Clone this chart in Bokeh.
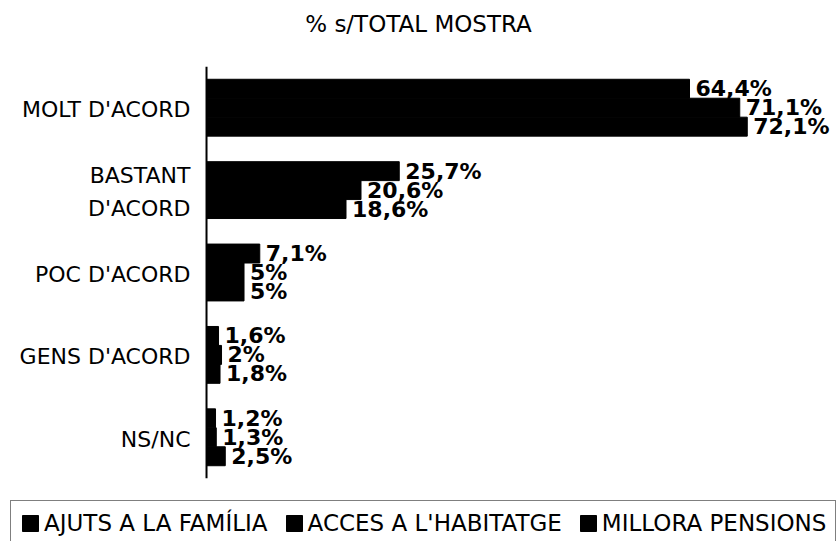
from bokeh.plotting import figure
from bokeh.layouts import column
from bokeh.models import ColumnDataSource, Legend, LegendItem, Span, FactorRange, Title
from bokeh.transform import dodge
from bokeh.core.properties import value
from bokeh.embed import file_html
from bokeh.resources import INLINE

# ---- data ----
categories = ["MOLT D'ACORD", "BASTANT\nD'ACORD", "POC D'ACORD", "GENS D'ACORD", "NS/NC"]
series_names = ["AJUTS A LA FAMÍLIA", "ACCES A L'HABITATGE", "MILLORA PENSIONS"]
ajuts = [64.4, 25.7, 7.1, 1.6, 1.2]
acces = [71.1, 20.6, 5.0, 2.0, 1.3]
millora = [72.1, 18.6, 5.0, 1.8, 2.5]
title_text = "% s/TOTAL MOSTRA"


def fmt(v):
    return f"{v:g}".replace(".", ",") + "%"


series = [ajuts, acces, millora]
cols = ["s0", "s1", "s2"]
data = {"cat": categories}
for c, vals in zip(cols, series):
    data[c] = vals
    data[c + "_lbl"] = [fmt(v) for v in vals]
src = ColumnDataSource(data)

FONT = "DejaVu Sans"
W = 836
p = figure(width=W, height=490,
           y_range=FactorRange(factors=categories[::-1]),
           x_range=(-27.47, 84.0),
           output_backend="svg", toolbar_location=None,
           min_border_left=0, min_border_right=0,
           min_border_top=66, min_border_bottom=12)

p.xaxis.visible = False
p.yaxis.visible = False
p.grid.visible = False
p.outline_line_color = None
p.background_fill_color = "white"
p.border_fill_color = "white"

# spacer between the title and the plot area
p.add_layout(Title(text=" ", text_font_size="10px", standoff=11), "above")

p.title.text = title_text
p.title.align = "center"
p.title.vertical_align = "bottom"
p.title.text_font = FONT
p.title.text_font_size = "23px"
p.title.text_font_style = "normal"
p.title.text_color = "black"
p.title.standoff = 12

# category labels
p.text(x=0, y="cat", text="cat", source=src, x_offset=-16, y_offset=2,
       text_align="right", text_baseline="middle",
       text_font=value(FONT), text_font_size="22px", text_color="black",
       text_line_height=1.3)

# axis line
p.add_layout(Span(location=0, dimension="height", line_color="black", line_width=2))

offsets = [0.23, 0.0, -0.23]
renderers = []
for c, off in zip(cols, offsets):
    r = p.hbar(y=dodge("cat", off, range=p.y_range), left=0, right=c, height=0.23,
               fill_color="black", line_color="black", source=src)
    renderers.append(r)

for c, off in zip(cols, offsets):
    p.text(x=c, y=dodge("cat", off, range=p.y_range), text=c + "_lbl", source=src,
           x_offset=6, text_align="left", text_baseline="middle",
           text_font=value(FONT), text_font_style="bold", text_font_size="22px",
           text_color="black")

# legend strip (separate figure below the chart)
lg = figure(width=W, height=51, x_range=(0, 1), y_range=(0, 1),
            output_backend="svg", toolbar_location=None,
            min_border_left=0, min_border_right=0, min_border_top=0, min_border_bottom=0)
lg.xaxis.visible = False
lg.yaxis.visible = False
lg.grid.visible = False
lg.outline_line_color = None
swatch = ColumnDataSource(dict(y=[float("nan")], right=[float("nan")]))
lg_renderers = [lg.hbar(y="y", right="right", height=0.5, fill_color="black",
                        line_color="black", source=swatch) for _ in series_names]
legend = Legend(items=[LegendItem(label=n, renderers=[r], index=0)
                       for n, r in zip(series_names, lg_renderers)],
                orientation="horizontal", location="top_left",
                label_text_font=FONT, label_text_font_size="23px", label_text_color="black",
                glyph_width=20, glyph_height=20, label_standoff=4, spacing=16,
                padding=9, margin=10, border_line_color="black", border_line_width=1.5,
                background_fill_color="white", background_fill_alpha=1.0)
lg.add_layout(legend)

layout = column(p, lg, spacing=0)
open("out.html", "w").write(file_html(layout, INLINE))
